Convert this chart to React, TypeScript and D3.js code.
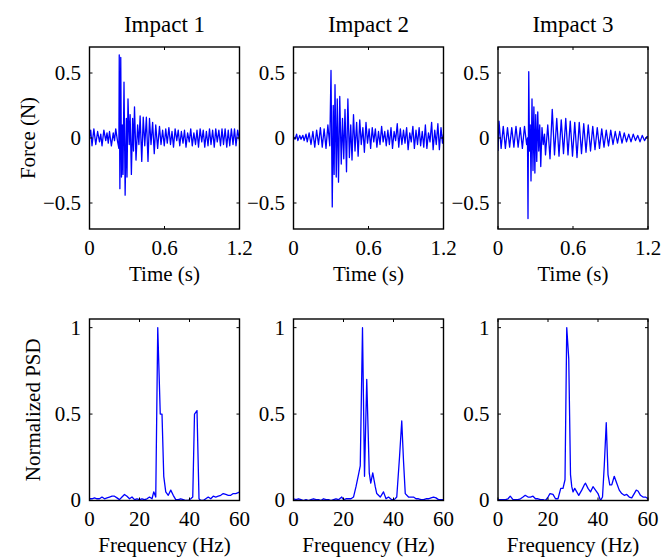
import React from "react";
import * as d3 from "d3";

// ---------- data ----------
const impactTitles = ["Impact 1", "Impact 2", "Impact 3"];
const timeTicks = [0, 0.6, 1.2];
const forceTicks = [-0.5, 0, 0.5];
const freqTicks = [0, 20, 40, 60];
const psdTicks = [0, 0.5, 1];

// [time (s), force (N)]
const force1: [number, number][] = [
  [0.0, 0.0], [0.01, 0.06], [0.02, -0.06], [0.035, 0.07], [0.05, -0.05], [0.065, 0.05], [0.08, -0.03],
  [0.09, 0.03], [0.1, -0.06], [0.115, 0.06], [0.13, -0.02], [0.14, 0.04], [0.15, -0.04], [0.16, 0.05],
  [0.175, -0.06], [0.19, 0.04], [0.2, -0.02], [0.21, 0.07], [0.225, -0.03], [0.235, -0.08],
  [0.238, 0.64], [0.243, -0.39], [0.25, 0.62], [0.256, -0.3], [0.262, 0.1], [0.268, -0.28],
  [0.276, 0.43], [0.285, -0.44], [0.295, 0.15], [0.3, -0.3], [0.308, 0.3], [0.318, -0.05],
  [0.325, 0.18], [0.335, -0.28], [0.345, 0.15], [0.352, -0.1], [0.36, 0.24], [0.372, -0.17],
  [0.385, 0.1], [0.395, -0.05], [0.405, 0.17], [0.418, -0.18], [0.43, 0.16], [0.442, -0.06],
  [0.455, 0.16], [0.468, -0.18], [0.48, 0.15], [0.492, -0.05], [0.505, 0.12], [0.518, -0.12],
  [0.53, 0.1], [0.545, -0.08], [0.56, 0.09], [0.572, -0.05], [0.585, 0.06], [0.598, -0.06],
  [0.61, 0.07], [0.622, -0.04], [0.635, 0.08], [0.648, -0.05], [0.66, 0.05], [0.672, -0.07],
  [0.685, 0.07], [0.698, -0.02], [0.71, 0.06], [0.722, -0.06], [0.735, 0.05], [0.748, -0.04],
  [0.76, 0.06], [0.772, -0.07], [0.785, 0.04], [0.798, -0.03], [0.81, 0.07], [0.822, -0.06],
  [0.835, 0.04], [0.848, -0.05], [0.86, 0.06], [0.872, -0.07], [0.885, 0.07], [0.898, -0.03],
  [0.91, 0.06], [0.922, -0.07], [0.935, 0.05], [0.948, -0.06], [0.96, 0.07], [0.972, -0.05],
  [0.985, 0.06], [0.998, -0.07], [1.01, 0.07], [1.022, -0.03], [1.035, 0.06], [1.048, -0.06],
  [1.06, 0.07], [1.072, -0.05], [1.085, 0.07], [1.098, -0.07], [1.11, 0.06], [1.122, -0.06],
  [1.135, 0.07], [1.148, -0.05], [1.16, 0.07], [1.172, -0.06], [1.185, 0.06], [1.2, -0.02],
];

const force2: [number, number][] = [
  [0.0, 0.01], [0.012, -0.01], [0.025, 0.03], [0.035, -0.02], [0.05, 0.02], [0.06, -0.01],
  [0.075, 0.02], [0.085, -0.02], [0.1, 0.03], [0.11, -0.03], [0.125, 0.04], [0.14, -0.05],
  [0.155, 0.05], [0.17, -0.07], [0.185, 0.06], [0.2, -0.05], [0.215, 0.08], [0.23, -0.07],
  [0.245, 0.07], [0.26, -0.08], [0.275, 0.1], [0.29, -0.06], [0.3, 0.52], [0.31, -0.53],
  [0.318, 0.25], [0.325, -0.28], [0.332, 0.41], [0.342, -0.3], [0.35, 0.3], [0.36, -0.34],
  [0.37, 0.32], [0.382, -0.2], [0.392, 0.15], [0.402, -0.16], [0.412, 0.22], [0.424, -0.26],
  [0.435, 0.3], [0.447, -0.15], [0.458, 0.1], [0.468, -0.17], [0.48, 0.18], [0.492, -0.1],
  [0.505, 0.12], [0.517, -0.14], [0.53, 0.14], [0.542, -0.05], [0.555, 0.08], [0.567, -0.11],
  [0.58, 0.12], [0.592, -0.04], [0.605, 0.07], [0.617, -0.08], [0.63, 0.08], [0.642, -0.03],
  [0.655, 0.07], [0.667, -0.07], [0.68, 0.05], [0.692, -0.05], [0.705, 0.09], [0.717, -0.03],
  [0.73, 0.05], [0.742, -0.06], [0.755, 0.06], [0.767, -0.05], [0.78, 0.08], [0.792, -0.08],
  [0.805, 0.05], [0.817, -0.02], [0.83, 0.11], [0.842, -0.07], [0.855, 0.07], [0.867, -0.05],
  [0.88, 0.06], [0.892, -0.04], [0.905, 0.08], [0.917, -0.09], [0.93, 0.04], [0.942, -0.03],
  [0.955, 0.09], [0.967, -0.08], [0.98, 0.06], [0.992, -0.05], [1.005, 0.08], [1.017, -0.06],
  [1.03, 0.05], [1.042, -0.07], [1.055, 0.1], [1.067, -0.08], [1.08, 0.04], [1.092, -0.03],
  [1.105, 0.12], [1.117, -0.09], [1.13, 0.06], [1.142, -0.05], [1.155, 0.11], [1.167, -0.09],
  [1.18, 0.08], [1.192, -0.04], [1.2, 0.03],
];

const force3: [number, number][] = [
  [0.0, -0.1], [0.008, 0.13], [0.025, -0.08], [0.042, 0.09], [0.059, -0.08], [0.076, 0.08],
  [0.093, -0.07], [0.11, 0.08], [0.127, -0.07], [0.144, 0.09], [0.161, -0.07], [0.178, 0.08],
  [0.195, -0.08], [0.212, 0.09], [0.229, -0.05], [0.236, 0.0],
  [0.24, -0.62], [0.246, 0.51], [0.252, -0.1], [0.258, 0.1], [0.264, -0.33], [0.272, 0.3],
  [0.28, -0.25], [0.287, 0.24], [0.295, -0.27], [0.302, 0.18], [0.31, -0.18], [0.318, 0.2],
  [0.326, -0.1], [0.334, 0.1], [0.342, -0.22], [0.352, 0.08], [0.362, -0.05], [0.372, 0.03],
  [0.38, -0.13], [0.398, 0.1], [0.416, -0.16], [0.434, 0.22], [0.452, -0.13], [0.47, 0.15],
  [0.488, -0.14], [0.506, 0.14], [0.524, -0.12], [0.542, 0.15], [0.56, -0.13], [0.578, 0.13],
  [0.596, -0.14], [0.614, 0.12], [0.632, -0.15], [0.65, 0.12], [0.668, -0.12], [0.686, 0.11],
  [0.704, -0.11], [0.722, 0.1], [0.74, -0.1], [0.758, 0.09], [0.776, -0.09], [0.794, 0.08],
  [0.812, -0.08], [0.83, 0.07], [0.848, -0.07], [0.866, 0.06], [0.884, -0.06], [0.902, 0.06],
  [0.92, -0.05], [0.938, 0.05], [0.956, -0.04], [0.974, 0.05], [0.992, -0.04], [1.01, 0.04],
  [1.028, -0.03], [1.046, 0.03], [1.064, -0.03], [1.082, 0.03], [1.1, -0.02], [1.118, 0.02],
  [1.136, -0.03], [1.154, 0.02], [1.172, -0.02], [1.19, 0.01], [1.2, 0.01],
];

// [frequency (Hz), normalized PSD]
const psd1: [number, number][] = [
  [0, 0.01], [1, 0.01], [2, 0.015], [3, 0.01], [4, 0.01], [5, 0.02], [6, 0.01], [7, 0.015],
  [8, 0.02], [9, 0.025], [10, 0.025], [11, 0.015], [12, 0.005], [13, 0.02], [14, 0.035],
  [15, 0.025], [16, 0.01], [17, 0.02], [18, 0.005], [19, 0.01], [20, 0.005], [21, 0.01],
  [22, 0.005], [23, 0.01], [24, 0.02], [25, 0.01], [25.7, 0.05], [26.5, 0.02], [27.3, 1.0],
  [28.3, 0.5], [29.0, 0.5], [29.7, 0.14], [30.5, 0.05], [31.5, 0.03], [32.5, 0.06], [33.5, 0.03],
  [34.5, 0.005], [35.5, 0.005], [36.5, 0.01], [37.5, 0.005], [38.5, 0.0], [39.5, 0.0],
  [40.5, 0.01], [41.3, 0.02], [42.0, 0.5], [43.0, 0.52], [43.8, 0.01], [44.5, 0.0], [45.5, 0.0],
  [46.5, 0.01], [47.5, 0.02], [48.5, 0.01], [49.5, 0.025], [50.5, 0.02], [51.5, 0.025],
  [52.5, 0.03], [53.5, 0.04], [54.5, 0.035], [55.5, 0.03], [56.5, 0.03], [57.5, 0.04],
  [58.5, 0.04], [59.5, 0.045], [60, 0.05],
];

const psd2: [number, number][] = [
  [0, 0.01], [1, 0.005], [2, 0.01], [3, 0.005], [4, 0.0], [5, 0.005], [6, 0.0], [7, 0.005],
  [8, 0.01], [9, 0.005], [10, 0.005], [11, 0.0], [12, 0.01], [13, 0.005], [14, 0.005],
  [15, 0.0], [16, 0.005], [17, 0.01], [18, 0.005], [19.3, 0.02], [20, 0.005], [21, 0.01],
  [22, 0.01], [23, 0.01], [24, 0.02], [25, 0.08], [26, 0.15], [26.7, 0.2], [27.6, 1.0],
  [28.4, 0.14], [29.3, 0.7], [30.3, 0.16], [30.9, 0.1], [31.7, 0.16], [32.7, 0.08],
  [33.3, 0.04], [34.7, 0.02], [36.0, 0.05], [37.0, 0.01], [38.0, 0.02], [39.3, 0.005],
  [40.3, 0.005], [41.3, 0.02], [42.4, 0.25], [43.3, 0.46], [44.0, 0.23], [44.7, 0.04],
  [46, 0.02], [47, 0.02], [48, 0.02], [49, 0.01], [50, 0.01], [51, 0.005], [52, 0.005],
  [53, 0.01], [54, 0.01], [55, 0.015], [56, 0.02], [57, 0.015], [58, 0.005], [59, 0.005],
  [60, 0.005],
];

const psd3: [number, number][] = [
  [0, 0.005], [1, 0.005], [2, 0.005], [3, 0.005], [4, 0.01], [4.9, 0.025], [6, 0.005],
  [7, 0.005], [8, 0.005], [9, 0.01], [10, 0.02], [10.9, 0.03], [12, 0.02], [13, 0.02],
  [14, 0.025], [15, 0.01], [16, 0.01], [17, 0.005], [18, 0.005], [19, 0.0], [20, 0.02],
  [20.8, 0.04], [22, 0.035], [23, 0.01], [24, 0.01], [25.1, 0.07], [26, 0.07], [26.8, 0.12],
  [27.5, 1.0], [28.3, 0.82], [29, 0.15], [29.5, 0.08], [30, 0.05], [30.7, 0.07], [31.5, 0.05],
  [32.3, 0.03], [33.5, 0.06], [34.5, 0.09], [35, 0.1], [36, 0.07], [37, 0.05], [38, 0.08],
  [39, 0.06], [40, 0.04], [41, 0.0], [41.8, 0.02], [42.5, 0.2], [43.3, 0.45], [44, 0.15],
  [44.7, 0.09], [45.5, 0.09], [46.5, 0.14], [47.5, 0.1], [48.5, 0.06], [49.5, 0.04],
  [50.5, 0.03], [51.5, 0.035], [52.5, 0.02], [53.5, 0.015], [54.5, 0.04], [55.3, 0.06],
  [56, 0.055], [57, 0.03], [58, 0.02], [59, 0.02], [60, 0.01],
];

const forceSeries = [force1, force2, force3];
const psdSeries = [psd1, psd2, psd3];

// ---------- layout ----------
const W = 663;
const H = 558;
const colLeft = [89.5, 293.5, 498];
const colWidth = 150;
const topRow = { y0: 47, y1: 229 };
const botRow = { y0: 319, y1: 500.5 };
const FONT = "'Liberation Serif', 'Times New Roman', Times, serif";
const LINE = "#0000ff";
const TICK = 3;

function fmt(v: number) {
  return v < 0 ? "\u2212" + String(-v) : String(v);
}

type PanelProps = {
  left: number;
  row: { y0: number; y1: number };
  xDomain: [number, number];
  yDomain: [number, number];
  xTicks: number[];
  yTicks: number[];
  data: [number, number][];
  title?: string;
  xLabel: string;
  yLabel?: string;
  yLabelX?: number;
  xTickBaseline: number;
  xLabelBaseline: number;
};

function Panel(p: PanelProps) {
  const x = d3.scaleLinear().domain(p.xDomain).range([p.left, p.left + colWidth]);
  const y = d3.scaleLinear().domain(p.yDomain).range([p.row.y1, p.row.y0]);
  const line = d3
    .line<[number, number]>()
    .x((d) => x(d[0]))
    .y((d) => y(d[1]));
  const cx = p.left + colWidth / 2;
  const cy = (p.row.y0 + p.row.y1) / 2;
  const clipId = `clip-${Math.round(p.left)}-${Math.round(p.row.y0)}`;
  return (
    <g>
      <defs>
        <clipPath id={clipId}>
          <rect x={p.left} y={p.row.y0} width={colWidth} height={p.row.y1 - p.row.y0} />
        </clipPath>
      </defs>
      <rect x={p.left} y={p.row.y0} width={colWidth} height={p.row.y1 - p.row.y0} fill="#fff" />
      <path
        d={line(p.data) || ""}
        fill="none"
        stroke={LINE}
        strokeWidth={1.3}
        strokeLinejoin="round"
        clipPath={`url(#${clipId})`}
      />
      {/* ticks */}
      {p.xTicks.map((t) => (
        <g key={"xt" + t}>
          <line x1={x(t)} x2={x(t)} y1={p.row.y1} y2={p.row.y1 - TICK} stroke="#000" strokeWidth={1} />
          <line x1={x(t)} x2={x(t)} y1={p.row.y0} y2={p.row.y0 + TICK} stroke="#000" strokeWidth={1} />
          <text x={x(t)} y={p.xTickBaseline} textAnchor="middle" fontSize={21} fontFamily={FONT}>
            {fmt(t)}
          </text>
        </g>
      ))}
      {p.yTicks.map((t) => (
        <g key={"yt" + t}>
          <line x1={p.left} x2={p.left + TICK} y1={y(t)} y2={y(t)} stroke="#000" strokeWidth={1} />
          <line
            x1={p.left + colWidth}
            x2={p.left + colWidth - TICK}
            y1={y(t)}
            y2={y(t)}
            stroke="#000"
            strokeWidth={1}
          />
          <text
            x={p.left - 8.5}
            y={y(t)}
            dy="0.33em"
            textAnchor="end"
            fontSize={21}
            fontFamily={FONT}
          >
            {fmt(t)}
          </text>
        </g>
      ))}
      <rect
        x={p.left}
        y={p.row.y0}
        width={colWidth}
        height={p.row.y1 - p.row.y0}
        fill="none"
        stroke="#000"
        strokeWidth={1.4}
      />
      {p.title && (
        <text x={cx} y={31.5} textAnchor="middle" fontSize={23} fontFamily={FONT}>
          {p.title}
        </text>
      )}
      <text x={cx} y={p.xLabelBaseline} textAnchor="middle" fontSize={21} fontFamily={FONT}>
        {p.xLabel}
      </text>
      {p.yLabel && (
        <text
          transform={`translate(${p.yLabelX},${cy}) rotate(-90)`}
          textAnchor="middle"
          fontSize={21}
          fontFamily={FONT}
        >
          {p.yLabel}
        </text>
      )}
    </g>
  );
}

export default function App() {
  return (
    <div style={{ position: "absolute", left: 0, top: 0, width: W, height: H, background: "#fff" }}>
      <svg width={W} height={H} viewBox={`0 0 ${W} ${H}`} style={{ display: "block" }}>
        <rect width={W} height={H} fill="#fff" />
        {impactTitles.map((title, i) => (
          <Panel
            key={"f" + i}
            left={colLeft[i]}
            row={topRow}
            xDomain={[0, 1.2]}
            yDomain={[-0.7, 0.7]}
            xTicks={timeTicks}
            yTicks={forceTicks}
            data={forceSeries[i]}
            title={title}
            xLabel="Time (s)"
            yLabel={i === 0 ? "Force (N)" : undefined}
            yLabelX={34.5}
            xTickBaseline={255}
            xLabelBaseline={281}
          />
        ))}
        {impactTitles.map((title, i) => (
          <Panel
            key={"p" + i}
            left={colLeft[i]}
            row={botRow}
            xDomain={[0, 60]}
            yDomain={[0, 1.05]}
            xTicks={freqTicks}
            yTicks={psdTicks}
            data={psdSeries[i]}
            xLabel="Frequency (Hz)"
            yLabel={i === 0 ? "Normalized PSD" : undefined}
            yLabelX={39.5}
            xTickBaseline={525.5}
            xLabelBaseline={551.5}
          />
        ))}
      </svg>
    </div>
  );
}
